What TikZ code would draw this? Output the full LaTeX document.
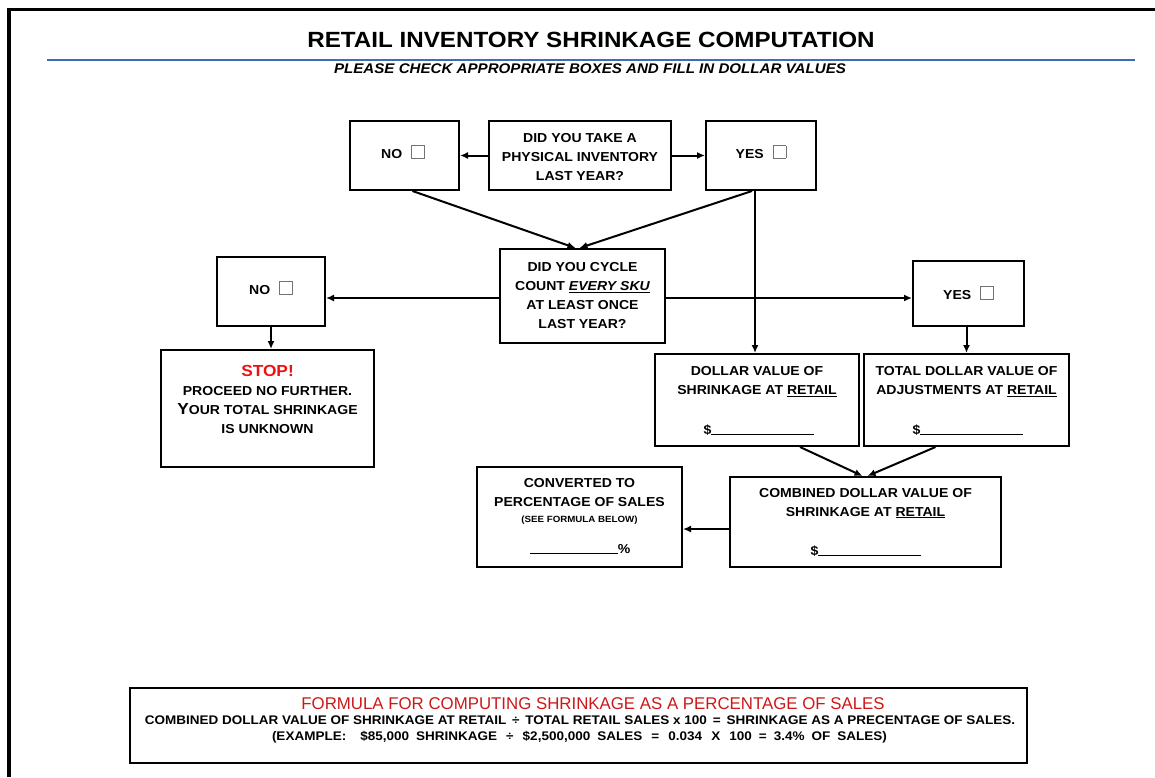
\documentclass[tikz,border=0pt]{standalone}
\usepackage{fontspec}
\setmainfont{Liberation Sans}
\newfontfamily\redfont[FakeStretch=0.99]{Liberation Sans}
\newfontfamily\formfont[FakeStretch=1.08]{Liberation Sans}
\newfontfamily\titlefont[FakeStretch=1.1]{Liberation Sans}
\newfontfamily\subfont[FakeStretch=1.08]{Liberation Sans}
\newfontfamily\boxfont[FakeStretch=1.08]{Liberation Sans}
\usetikzlibrary{arrows.meta}
\definecolor{rulblue}{HTML}{3E6DB5}
\definecolor{stopred}{HTML}{EE1111}
\definecolor{formred}{HTML}{CC1818}
\newcommand{\chkbox}{{\setlength{\fboxsep}{0pt}\setlength{\fboxrule}{0.8pt}\color{black!55}\fbox{\rule{0pt}{12pt}\rule{12pt}{0pt}}}}
\newcommand{\blankline}[1]{\rule[-1pt]{#1}{0.9pt}}
\begin{document}
\begin{tikzpicture}[x=1pt,y=-1pt,
  box/.style={draw, line width=2pt, inner sep=0pt, align=center},
  txt/.style={font=\boxfont\fontsize{13}{19}\selectfont\bfseries, align=center, inner sep=0pt},
  arr/.style={line width=2pt, -{Latex[length=8pt,width=7pt]}}]
\useasboundingbox (0,0) rectangle (1155,777);
% outer frame (top and left only)
\draw[line width=3pt] (8,9) -- (1155,9);
\draw[line width=4pt] (9,8) -- (9,777);
% title
\node[inner sep=0pt, font=\titlefont\fontsize{22}{26}\selectfont\bfseries] (title) at (591,40) {RETAIL INVENTORY SHRINKAGE COMPUTATION};
\draw[rulblue, line width=2pt] (47,59.5) coordinate (rl) -- (1135,59.5) coordinate (rr);
\node[inner sep=0pt, font=\subfont\fontsize{14}{16}\selectfont\bfseries\itshape] (sub) at (590,69) {PLEASE CHECK APPROPRIATE BOXES AND FILL IN DOLLAR VALUES};

% first row
\node[box, minimum width=109pt, minimum height=69pt] (no1) at (404.5,155.5) {};
\node[txt] (no1t) at (403,152) {NO\hspace{9pt}\chkbox};
\node[box, minimum width=182pt, minimum height=69pt] (q1) at (580,155.5) {};
\node[txt] (q1t) at (580,157) {DID YOU TAKE A\\PHYSICAL INVENTORY\\LAST YEAR?};
\node[box, minimum width=110pt, minimum height=69pt] (yes1) at (761,155.5) {};
\node[txt] (yes1t) at (761,152) {YES\hspace{9pt}\chkbox};

% second row
\node[box, minimum width=165pt, minimum height=94pt] (q2) at (582.5,296) {};
\node[txt] (q2t) at (582.5,296) {DID YOU CYCLE\\COUNT \underline{\itshape EVERY SKU}\\AT LEAST ONCE\\LAST YEAR?};
\node[box, minimum width=108pt, minimum height=69pt] (no2) at (271,291.5) {};
\node[txt] (no2t) at (271,288) {NO\hspace{9pt}\chkbox};
\node[box, minimum width=111pt, minimum height=65pt] (yes2) at (968.5,293.5) {};
\node[txt] (yes2t) at (968.5,293) {YES\hspace{9pt}\chkbox};

% stop box
\node[box, minimum width=213pt, minimum height=117pt] (stop) at (267.5,408.5) {};
\node[txt] (stopt) at (267.5,399) {{\color{stopred}\fontsize{16}{19}\selectfont STOP!}\\PROCEED NO FURTHER.\\{\fontsize{16}{19}\selectfont Y}OUR TOTAL SHRINKAGE\\IS UNKNOWN};

% value boxes
\node[box, minimum width=204pt, minimum height=92pt] (dv) at (757,400) {};
\node[txt] (dvt) at (757,381.5) {DOLLAR VALUE OF\\SHRINKAGE AT \underline{RETAIL}};
\node[txt] (dvl) at (759,430) {\$\blankline{103pt}};
\node[box, minimum width=205pt, minimum height=92pt] (td) at (966.5,400) {};
\node[txt] (tdt) at (966.5,381.5) {TOTAL DOLLAR VALUE OF\\ADJUSTMENTS AT \underline{RETAIL}};
\node[txt] (tdl) at (968,430) {\$\blankline{103pt}};

% bottom row
\node[box, minimum width=271pt, minimum height=90pt] (comb) at (865.5,522) {};
\node[txt] (combt) at (865.5,503) {COMBINED DOLLAR VALUE OF\\SHRINKAGE AT \underline{RETAIL}};
\node[txt] (combl) at (866,551) {\$\blankline{103pt}};
\node[box, minimum width=205pt, minimum height=100pt] (conv) at (579.5,517) {};
\node[txt] (convt) at (579.5,492.5) {CONVERTED TO\\PERCENTAGE OF SALES};
\node[txt, font=\boxfont\fontsize{9}{11}\selectfont\bfseries] (convs) at (579.5,520) {(SEE FORMULA BELOW)};
\node[txt] (convl) at (580,549) {\blankline{88pt}\%};

% formula box
\node[box, line width=1.4pt, minimum width=897pt, minimum height=75pt] (form) at (578.5,725.5) {};
\node[inner sep=0pt, font=\redfont\fontsize{17}{20}\selectfont, text=formred] (f1) at (593,704) {FORMULA FOR COMPUTING SHRINKAGE AS A PERCENTAGE OF SALES};
\node[inner sep=0pt, font=\formfont\fontsize{12.5}{15}\selectfont\bfseries] (f2) at (580,720) {COMBINED DOLLAR VALUE OF SHRINKAGE AT RETAIL \,÷\, TOTAL RETAIL SALES x 100 \,=\, SHRINKAGE AS A PRECENTAGE OF SALES.};
\node[inner sep=0pt, font=\formfont\fontsize{12.5}{15}\selectfont\bfseries] (f3) at (579.5,737) {\makebox[615pt][s]{(EXAMPLE: \ \$85,000 SHRINKAGE \,÷\, \$2,500,000 SALES \,=\, 0.034 \,X\, 100 = 3.4\% OF SALES)}};

% connectors
\draw[arr] (q1.west) -- (no1.east);
\draw[arr] (q1.east) -- (yes1.west);
\draw[arr] ([xshift=8pt]no1.south) -- ([xshift=-7pt]q2.north);
\draw[arr] ([xshift=-9pt]yes1.south) -- ([xshift=-3pt]q2.north);
\draw[arr] ([xshift=-6pt]yes1.south) -- ([xshift=-6pt]yes1.south |- dv.north);
\draw[arr] ([yshift=-2pt]q2.west) -- ([yshift=-2pt]q2.west -| no2.east);
\draw[arr] ([yshift=-2pt]q2.east) -- ([yshift=-2pt]q2.east -| yes2.west);
\draw[arr] (no2.south) -- (no2.south |- stop.north);
\draw[arr] ([xshift=-2pt]yes2.south) -- ([xshift=-2pt]yes2.south |- td.north);
\draw[arr] ([xshift=43pt]dv.south) -- ([xshift=-3pt]comb.north);
\draw[arr] ([xshift=-31pt]td.south) -- ([xshift=2pt]comb.north);
\draw[arr] ([yshift=-7pt]comb.west) -- ([yshift=-7pt]comb.west -| conv.east);
\end{tikzpicture}
\end{document}
